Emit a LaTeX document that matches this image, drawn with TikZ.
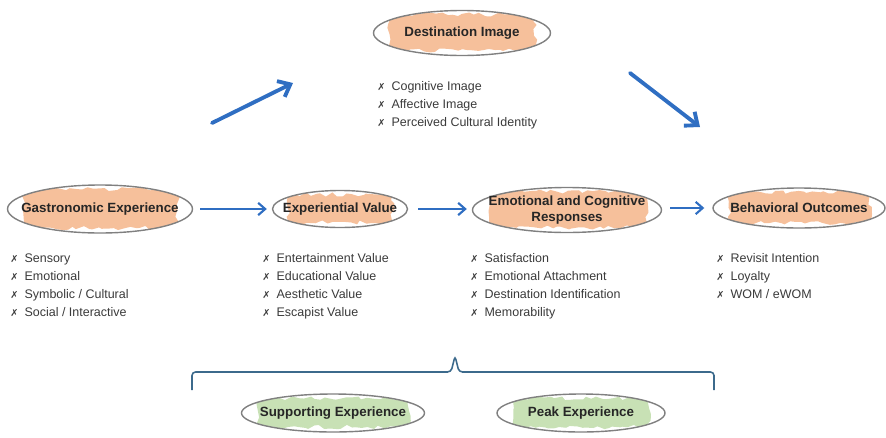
\documentclass[tikz,border=0pt]{standalone}
\usepackage{fontspec}
\setmainfont{Liberation Sans}
\newfontfamily\symfont{DejaVu Sans}
\usetikzlibrary{arrows.meta, shapes.geometric, decorations.pathmorphing, positioning}

\definecolor{brushorange}{HTML}{F6C09B}
\definecolor{brushgreen}{HTML}{C8E1B5}
\definecolor{rimgray}{HTML}{808080}
\definecolor{flowblue}{HTML}{2F6EC2}
\definecolor{bracegray}{HTML}{3C6A8C}
\definecolor{listgray}{HTML}{3A3A3A}

\newcommand{\xm}{{\symfont\fontsize{5.5}{6}\selectfont ✗}\hspace{3.5pt}}

\tikzset{
	stage/.style={ellipse, draw=rimgray, line width=0.8pt, inner xsep=-0.5cm, inner ysep=-0.1cm,
		font=\bfseries\fontsize{7.6}{9}\selectfont, text=black!85, align=center,
		path picture={\fill[#1, decorate, decoration={random steps, segment length=3pt, amplitude=1.2pt}]
			([xshift=0.32cm, yshift=0.1cm]path picture bounding box.south west) rectangle
			([xshift=-0.3cm, yshift=-0.08cm]path picture bounding box.north east);}},
	stage/.default=brushorange,
	items/.style={anchor=north west, inner sep=0pt, align=left, text=listgray,
		font=\fontsize{7.1}{10.3}\selectfont},
	flow/.style={draw=flowblue, line width=1.2pt, -{Straight Barb[length=4pt, width=7pt]}},
	bigflow/.style={draw=flowblue, line width=2.2pt, line cap=round, -{Straight Barb[length=6pt, width=10pt]}}
}

\begin{document}
\begin{tikzpicture}
	\pgfmathsetseed{7}
	\useasboundingbox (0,0) rectangle (17.72,-8.74);
	% NOTE: 1 px of the layout is 0.02 cm, y runs down from the top edge.
	\node[stage, minimum width=3.54cm, minimum height=0.9cm] (dest) at (9.24,-0.66) {Destination Image};
	\node[stage, minimum width=3.7cm, minimum height=0.96cm] (gastro) at (2.0,-4.18) {Gastronomic Experience};
	\node[stage, minimum width=2.7cm, minimum height=0.74cm] (expval) at (6.8,-4.18) {Experiential Value};
	\node[stage, minimum width=3.78cm, minimum height=0.9cm] (emocog) at (11.34,-4.2) {Emotional and Cognitive\\Responses};
	\node[stage, minimum width=3.44cm, minimum height=0.8cm] (behav) at (15.98,-4.16) {Behavioral Outcomes};
	\node[stage=brushgreen, minimum width=3.66cm, minimum height=0.76cm] (supp) at (6.66,-8.26) {Supporting Experience};
	\node[stage=brushgreen, minimum width=3.36cm, minimum height=0.76cm] (peak) at (11.62,-8.26) {Peak Experience};

	\node[items] (destitems) at (7.54,-1.62) {\xm Cognitive Image\\ \xm Affective Image\\ \xm Perceived Cultural Identity};
	\node[items] (gastroitems) at (0.2,-5.06) {\xm Sensory\\ \xm Emotional\\ \xm Symbolic / Cultural\\ \xm Social / Interactive};
	\node[items] (expvalitems) at (5.24,-5.06) {\xm Entertainment Value\\ \xm Educational Value\\ \xm Aesthetic Value\\ \xm Escapist Value};
	\node[items] (emocogitems) at (9.4,-5.06) {\xm Satisfaction\\ \xm Emotional Attachment\\ \xm Destination Identification\\ \xm Memorability};
	\node[items] (behavitems) at (14.32,-5.06) {\xm Revisit Intention\\ \xm Loyalty\\ \xm WOM / eWOM};

	\draw[flow, shorten <=0.14cm, shorten >=0.1cm] (gastro.east) -- (expval.west);
	\draw[flow, shorten <=0.2cm, shorten >=0.1cm] (expval.east) -- (expval.east -| emocog.west);
	\draw[flow, shorten <=0.16cm, shorten >=0.16cm] (emocog.east |- behav.west) -- (behav.west);

	\coordinate (riseA) at (4.24,-2.46);
	\coordinate (riseB) at (5.86,-1.66);
	\coordinate (fallA) at (12.6,-1.46);
	\coordinate (fallB) at (14.0,-2.54);
	\draw[bigflow] (riseA) -- (riseB);
	\draw[bigflow] (fallA) -- (fallB);

	\draw[bracegray, line width=0.9pt, rounded corners=2pt] (3.84,-7.8) -- (3.84,-7.44) -- (9.02,-7.44)
		-- (9.1,-7.12) -- (9.18,-7.44) -- (14.28,-7.44) -- (14.28,-7.8);
\end{tikzpicture}
\end{document}
